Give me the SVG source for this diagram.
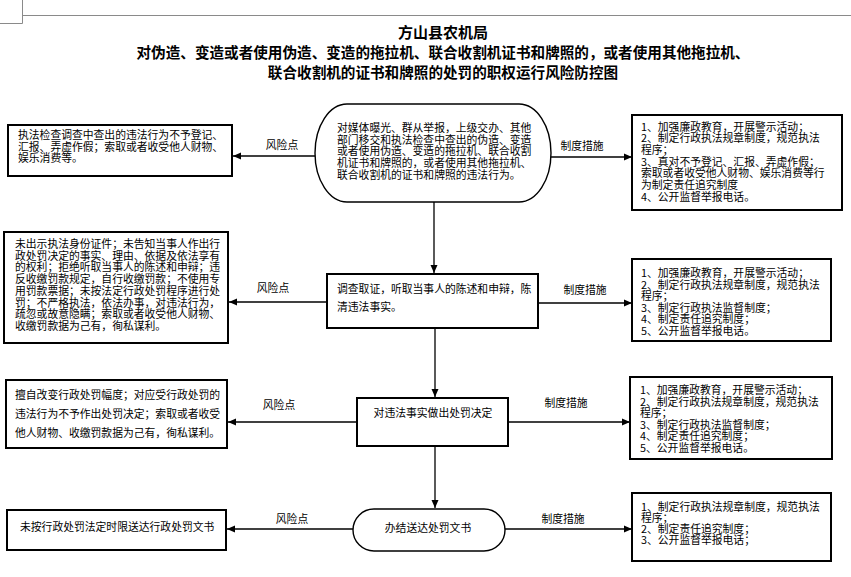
<svg xmlns="http://www.w3.org/2000/svg" width="851" height="577" viewBox="0 0 851 577">
<defs>
<marker id="ah" markerUnits="userSpaceOnUse" markerWidth="9" markerHeight="8" refX="8" refY="4" orient="auto">
<path d="M0,0.5 L8,4 L0,7.5 z" fill="#000"/>
</marker>
<style>
.box{fill:#fff;stroke:#000;stroke-width:2}
.term{fill:#fff;stroke:#000;stroke-width:1.4}
.t{font-family:"Noto Sans CJK SC","Noto Sans CJK JP",sans-serif;font-size:10.8px;fill:#000}
.c{text-anchor:middle}
.lbl{font-family:"Noto Sans CJK SC",sans-serif;font-size:10.8px;fill:#000;text-anchor:middle}
.title{font-family:"Noto Sans CJK SC",sans-serif;font-size:14.6px;font-weight:bold;fill:#000;text-anchor:middle}
.conn{stroke:#000;stroke-width:1.3;fill:none;marker-end:url(#ah)}
.mark{stroke:#8a8a8a;stroke-width:1;fill:none}
</style>
</defs>
<rect width="851" height="577" fill="#fff"/>
<g id="page-mark">
<path class="mark" d="M22.5,0 V23.5 H0 M22.5,15.5 H851"/>
</g>
<g id="title">
<text class="title" x="443" y="38" style="font-size:15px">方山县农机局</text>
<text class="title" x="443" y="58">对伪造、变造或者使用伪造、变造的拖拉机、联合收割机证书和牌照的，或者使用其他拖拉机、</text>
<text class="title" x="443" y="78">联合收割机的证书和牌照的处罚的职权运行风险防控图</text>
</g>
<g id="connectors">
<line class="conn" x1="315" y1="156" x2="233" y2="156"/>
<line class="conn" x1="551" y1="157" x2="632" y2="157"/>
<line class="conn" x1="434" y1="202" x2="434" y2="273"/>
<line class="conn" x1="327" y1="302" x2="229" y2="302"/>
<line class="conn" x1="538" y1="303" x2="632" y2="303"/>
<line class="conn" x1="435" y1="328" x2="435" y2="397"/>
<line class="conn" x1="357" y1="422" x2="228" y2="422"/>
<line class="conn" x1="508" y1="422" x2="630" y2="422"/>
<line class="conn" x1="435" y1="446" x2="435" y2="508"/>
<line class="conn" x1="353" y1="529" x2="227" y2="529"/>
<line class="conn" x1="505" y1="529" x2="632" y2="529"/>
<text class="lbl" x="282" y="149">风险点</text>
<text class="lbl" x="582" y="150">制度措施</text>
<text class="lbl" x="273" y="292">风险点</text>
<text class="lbl" x="585" y="294">制度措施</text>
<text class="lbl" x="279" y="409">风险点</text>
<text class="lbl" x="566" y="407">制度措施</text>
<text class="lbl" x="292" y="523">风险点</text>
<text class="lbl" x="563" y="523">制度措施</text>
</g>
<g id="node-start">
<rect class="term" x="315" y="104" width="236" height="98" rx="32" ry="49"/>
<text class="t" y="132"><tspan x="337">对媒体曝光、群从举报，上级交办、其他</tspan><tspan x="337" dy="11.7">部门移交和执法检查中查出的伪造、变造</tspan><tspan x="337" dy="11.7">或者使用伪造、变造的拖拉机、联合收割</tspan><tspan x="337" dy="11.7">机证书和牌照的，或者使用其他拖拉机、</tspan><tspan x="337" dy="11.7">联合收割机的证书和牌照的违法行为。</tspan></text>
</g>
<g id="risk-1">
<rect class="box" x="8" y="125" width="224" height="51"/>
<text class="t" y="139"><tspan x="18">执法检查调查中查出的违法行为不予登记、</tspan><tspan x="18" dy="11.7">汇报、弄虚作假；索取或者收受他人财物、</tspan><tspan x="18" dy="11.7">娱乐消费等。</tspan></text>
</g>
<g id="measure-1">
<rect class="box" x="632" y="115" width="210" height="95"/>
<text class="t" y="130.5"><tspan x="641">1、加强廉政教育，开展警示活动；</tspan><tspan x="641" dy="11.7">2、制定行政执法规章制度，规范执法</tspan><tspan x="641" dy="11.7">程序；</tspan><tspan x="641" dy="11.7">3、真对不予登记、汇报、弄虚作假；</tspan><tspan x="641" dy="11.7">索取或者收受他人财物、娱乐消费等行</tspan><tspan x="641" dy="11.7">为制定责任追究制度</tspan><tspan x="641" dy="11.7">4、公开监督举报电话。</tspan></text>
</g>
<g id="node-investigate">
<rect class="box" x="327" y="274" width="211" height="54"/>
<text class="t" y="293"><tspan x="337">调查取证，听取当事人的陈述和申辩，陈</tspan><tspan x="337" dy="18">清违法事实。</tspan></text>
</g>
<g id="risk-2">
<rect class="box" x="4" y="232" width="224" height="111"/>
<text class="t" y="248"><tspan x="15">未出示执法身份证件；未告知当事人作出行</tspan><tspan x="15" dy="11.7">政处罚决定的事实、理由、依据及依法享有</tspan><tspan x="15" dy="11.7">的权利；拒绝听取当事人的陈述和申辩；违</tspan><tspan x="15" dy="11.7">反收缴罚款规定，自行收缴罚款；不使用专</tspan><tspan x="15" dy="11.7">用罚款票据；未按法定行政处罚程序进行处</tspan><tspan x="15" dy="11.7">罚；不严格执法，依法办事，对违法行为，</tspan><tspan x="15" dy="11.7">疏忽或故意隐瞒；索取或者收受他人财物、</tspan><tspan x="15" dy="11.7">收缴罚款据为己有，徇私谋利。</tspan></text>
</g>
<g id="measure-2">
<rect class="box" x="632" y="259" width="199" height="82"/>
<text class="t" y="277"><tspan x="641">1、加强廉政教育，开展警示活动；</tspan><tspan x="641" dy="11.5">2、制定行政执法规章制度，规范执法</tspan><tspan x="641" dy="11.5">程序；</tspan><tspan x="641" dy="11.5">3、制定行政执法监督制度；</tspan><tspan x="641" dy="11.5">4、制定责任追究制度；</tspan><tspan x="641" dy="11.5">5、公开监督举报电话。</tspan></text>
</g>
<g id="node-decide">
<rect class="box" x="357" y="398" width="151" height="48"/>
<text class="t c" x="433" y="417">对违法事实做出处罚决定</text>
</g>
<g id="risk-3">
<rect class="box" x="6" y="380" width="221" height="68"/>
<text class="t" y="399"><tspan x="15">擅自改变行政处罚幅度；对应受行政处罚的</tspan><tspan x="15" dy="19">违法行为不予作出处罚决定；索取或者收受</tspan><tspan x="15" dy="19">他人财物、收缴罚款据为己有，徇私谋利。</tspan></text>
</g>
<g id="measure-3">
<rect class="box" x="630" y="377" width="202" height="82"/>
<text class="t" y="394"><tspan x="640">1、加强廉政教育，开展警示活动；</tspan><tspan x="640" dy="11.5">2、制定行政执法规章制度，规范执法</tspan><tspan x="640" dy="11.5">程序；</tspan><tspan x="640" dy="11.5">3、制定行政执法监督制度；</tspan><tspan x="640" dy="11.5">4、制定责任追究制度；</tspan><tspan x="640" dy="11.5">5、公开监督举报电话。</tspan></text>
</g>
<g id="node-deliver">
<rect class="term" x="353" y="509" width="152" height="42" rx="21" ry="21"/>
<text class="t c" x="428" y="532">办结送达处罚文书</text>
</g>
<g id="risk-4">
<rect class="box" x="7" y="510" width="219" height="40"/>
<text class="t" x="20" y="531">未按行政处罚法定时限送达行政处罚文书</text>
</g>
<g id="measure-4">
<rect class="box" x="632" y="493" width="199" height="68"/>
<text class="t" y="511"><tspan x="641">1、制定行政执法规章制度，规范执法</tspan><tspan x="641" dy="11">程序；</tspan><tspan x="641" dy="11">2、制定责任追究制度；</tspan><tspan x="641" dy="11">3、公开监督举报电话；</tspan></text>
</g>
</svg>
